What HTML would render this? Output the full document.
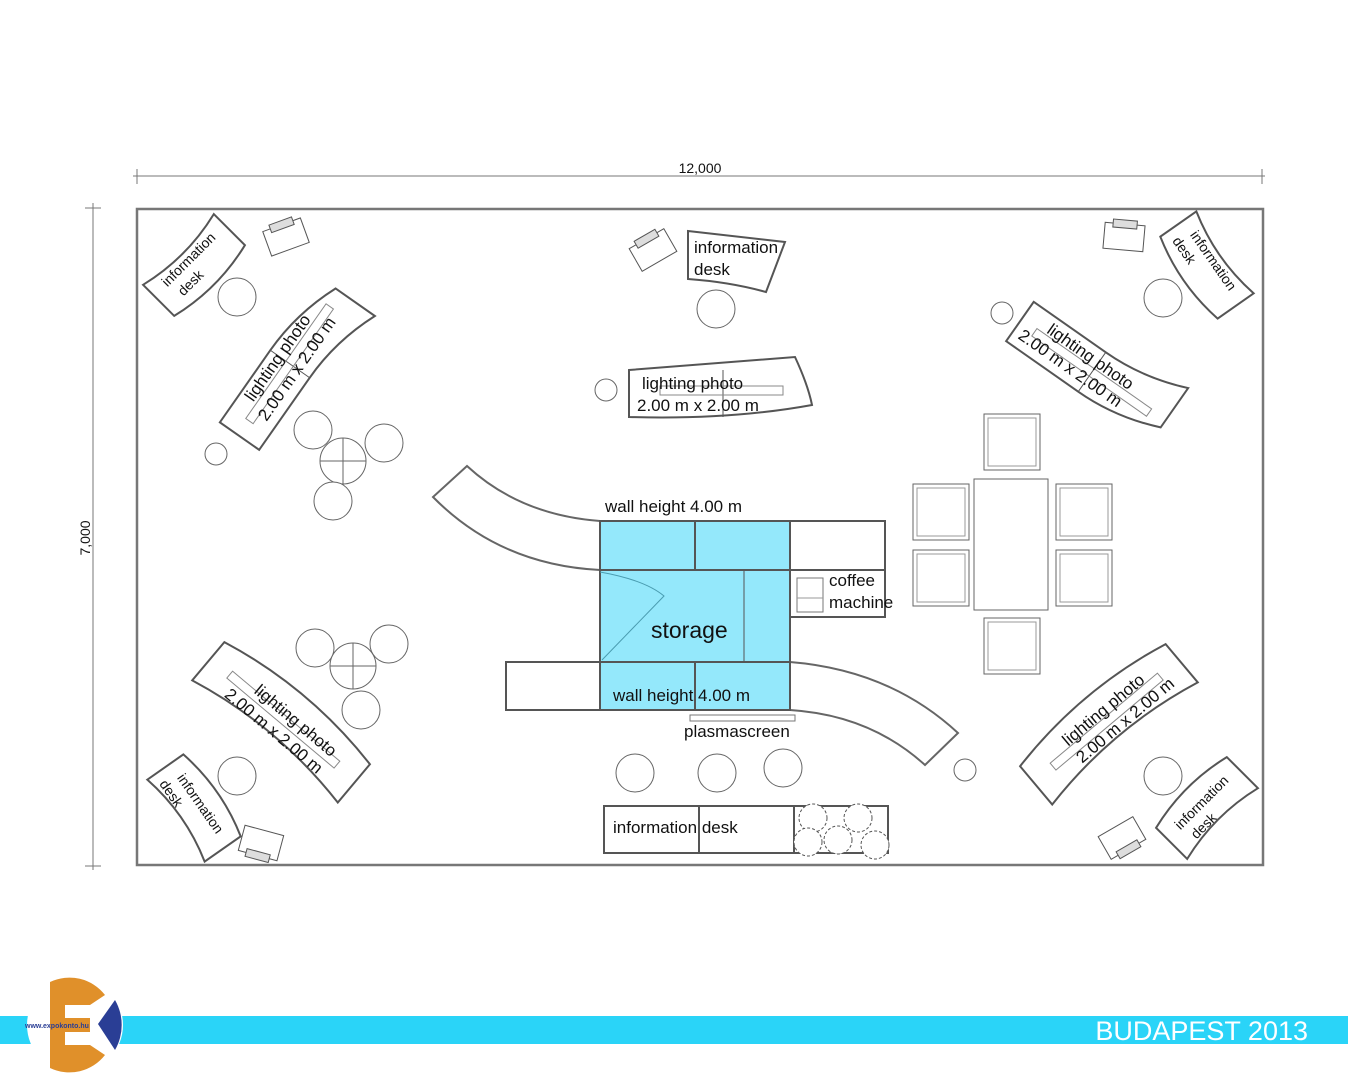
<!DOCTYPE html><html><head><style>body{margin:0;background:#fff}svg{display:block}text{font-family:"Liberation Sans",sans-serif;fill:#111}</style></head><body>
<svg width="1348" height="1080" viewBox="0 0 1348 1080" xmlns="http://www.w3.org/2000/svg">
<defs>
<g id="ban"><path d="M-88,-24 L0,-24 Q45,-24 88,-42 L88,6 Q45,24 0,24 L-88,24 Z" fill="#fff" stroke="#555" stroke-width="2"/><line x1="0" y1="-24" x2="0" y2="24" stroke="#555"/><rect x="-70" y="-4" width="140" height="9" fill="none" stroke="#888"/></g>
<g id="ban2"><path d="M-95,-28 Q0,-8 95,-28 L95,22 Q0,42 -95,22 Z" fill="#fff" stroke="#555" stroke-width="2"/><rect x="-70" y="-4" width="140" height="9" fill="none" stroke="#888"/></g>
<g id="desk"><path d="M-50,-22 Q0,-10 50,-22 L50,22 Q0,34 -50,22 Z" fill="#fff" stroke="#555" stroke-width="2"/></g>
<g id="lap"><rect x="-20" y="-13" width="40" height="26" fill="#fff" stroke="#555"/><rect x="-12" y="-17" width="24" height="8" fill="#ddd" stroke="#555"/></g>
<g id="chair"><rect x="0" y="0" width="56" height="56" fill="#fff" stroke="#666"/><rect x="4" y="4" width="48" height="48" fill="none" stroke="#999"/></g>
</defs>
<g stroke="#777" fill="none"><line x1="133" y1="176" x2="1265" y2="176"/><line x1="137" y1="169" x2="137" y2="184"/><line x1="1262" y1="169" x2="1262" y2="184"/><line x1="93" y1="203" x2="93" y2="870"/><line x1="85" y1="208" x2="101" y2="208"/><line x1="85" y1="866" x2="101" y2="866"/></g>
<text x="700" y="173" font-size="14" text-anchor="middle">12,000</text>
<text transform="translate(90,538) rotate(-90)" font-size="14" text-anchor="middle">7,000</text>
<rect x="137" y="209" width="1126" height="656" fill="none" stroke="#777" stroke-width="2.5"/>
<path d="M467,466 Q520,515 600,521 L600,570 Q500,565 433,497 Z" fill="#fff" stroke="#666" stroke-width="2"/>
<path d="M790,662 Q890,670 958,733 L925,765 Q870,715 790,710 Z" fill="#fff" stroke="#666" stroke-width="2"/>
<g stroke="#555" stroke-width="2">
<rect x="600" y="521" width="190" height="189" fill="#94e8fb"/>
<line x1="600" y1="570" x2="790" y2="570"/><line x1="600" y1="662" x2="790" y2="662"/>
<line x1="695" y1="521" x2="695" y2="570"/><line x1="695" y1="662" x2="695" y2="710"/>
<rect x="790" y="521" width="95" height="49" fill="#fff"/><rect x="790" y="570" width="95" height="47" fill="#fff"/>
<rect x="506" y="662" width="94" height="48" fill="#fff"/>
</g>
<line x1="744" y1="570" x2="744" y2="662" stroke="#555"/>
<path d="M600,572 Q645,580 664,596 L602,660" fill="none" stroke="#4a9cb0"/>
<rect x="797" y="578" width="26" height="34" fill="#fff" stroke="#777"/><line x1="797" y1="598" x2="823" y2="598" stroke="#999"/>
<rect x="690" y="715" width="105" height="6" fill="#fff" stroke="#777"/>
<text x="605" y="512" font-size="17">wall height 4.00 m</text>
<text x="613" y="701" font-size="17">wall height 4.00 m</text>
<text x="651" y="638" font-size="23">storage</text>
<text x="829" y="586" font-size="17">coffee</text><text x="829" y="608" font-size="17">machine</text>
<text x="684" y="737" font-size="17">plasmascreen</text>
<rect x="604" y="806" width="284" height="47" fill="#fff" stroke="#555" stroke-width="2"/>
<line x1="699" y1="806" x2="699" y2="853" stroke="#555" stroke-width="2"/><line x1="794" y1="806" x2="794" y2="853" stroke="#555" stroke-width="2"/>
<text x="613" y="833" font-size="17">information desk</text>
<g fill="#fff" stroke="#555" stroke-dasharray="3,2"><circle cx="813" cy="818" r="14"/><circle cx="858" cy="818" r="14"/><circle cx="808" cy="842" r="14"/><circle cx="838" cy="840" r="14"/><circle cx="875" cy="845" r="14"/></g>
<rect x="974" y="479" width="74" height="131" fill="#fff" stroke="#666"/>
<use href="#chair" x="913" y="484"/><use href="#chair" x="913" y="550"/><use href="#chair" x="1056" y="484"/><use href="#chair" x="1056" y="550"/><use href="#chair" x="984" y="414"/><use href="#chair" x="984" y="618"/>
<g fill="#fff" stroke="#666">
<circle cx="237" cy="297" r="19"/><circle cx="716" cy="309" r="19"/><circle cx="1163" cy="298" r="19"/><circle cx="1002" cy="313" r="11"/><circle cx="606" cy="390" r="11"/><circle cx="216" cy="454" r="11"/><circle cx="313" cy="430" r="19"/><circle cx="384" cy="443" r="19"/><circle cx="343" cy="461" r="23"/><circle cx="333" cy="501" r="19"/><circle cx="315" cy="648" r="19"/><circle cx="389" cy="644" r="19"/><circle cx="353" cy="666" r="23"/><circle cx="361" cy="710" r="19"/><circle cx="237" cy="776" r="19"/><circle cx="635" cy="773" r="19"/><circle cx="717" cy="773" r="19"/><circle cx="783" cy="768" r="19"/><circle cx="965" cy="770" r="11"/><circle cx="1163" cy="776" r="19"/>
</g>
<g stroke="#666"><line x1="343" y1="438" x2="343" y2="484"/><line x1="320" y1="461" x2="366" y2="461"/><line x1="353" y1="643" x2="353" y2="689"/><line x1="330" y1="666" x2="376" y2="666"/></g>
<path d="M629,370 L795,357 Q808,385 812,405 Q730,420 629,417 Z" fill="#fff" stroke="#555" stroke-width="2"/>
<line x1="723" y1="370" x2="723" y2="417" stroke="#555"/><rect x="660" y="386" width="123" height="9" fill="none" stroke="#888"/>
<text x="642" y="389" font-size="17">lighting photo</text><text x="637" y="411" font-size="17">2.00 m x 2.00 m</text>
<path d="M688,231 L785,242 L766,292 Q730,282 688,279 Z" fill="#fff" stroke="#555" stroke-width="2"/>
<text x="694" y="253" font-size="17">information</text><text x="694" y="275" font-size="17">desk</text>
<g transform="translate(290,364) rotate(-55)"><use href="#ban" transform="scale(1,-1)"/><text x="-2" y="-8" font-size="17" text-anchor="middle">lighting photo</text><text x="0" y="14" font-size="17" text-anchor="middle">2.00 m x 2.00 m</text></g>
<g transform="translate(1092,372) rotate(35)"><use href="#ban"/><text x="-10" y="-6" font-size="17" text-anchor="middle">lighting photo</text><text x="-20" y="15" font-size="17" text-anchor="middle">2.00 m x 2.00 m</text></g>
<g transform="translate(283,720) rotate(40)"><use href="#ban2" transform="scale(1,-1)"/><text x="10" y="-2" font-size="17" text-anchor="middle">lighting photo</text><text x="0" y="20" font-size="17" text-anchor="middle">2.00 m x 2.00 m</text></g>
<g transform="translate(1107,722) rotate(-40)"><use href="#ban2" transform="scale(1,-1)"/><text x="5" y="-6" font-size="17" text-anchor="middle">lighting photo</text><text x="15" y="16" font-size="17" text-anchor="middle">2.00 m x 2.00 m</text></g>
<g transform="translate(194,265) rotate(-45)"><use href="#desk"/><text x="0" y="-3" font-size="14" text-anchor="middle">information</text><text x="-15" y="15" font-size="14" text-anchor="middle">desk</text></g>
<g transform="translate(1207,265) rotate(55)"><use href="#desk"/><text x="0" y="-3" font-size="14" text-anchor="middle">information</text><text x="-25" y="15" font-size="14" text-anchor="middle">desk</text></g>
<g transform="translate(194,808) rotate(55)"><use href="#desk" transform="scale(1,-1)"/><text x="0" y="-3" font-size="14" text-anchor="middle">information</text><text x="-25" y="15" font-size="14" text-anchor="middle">desk</text></g>
<g transform="translate(1207,808) rotate(-45)"><use href="#desk" transform="scale(1,-1)"/><text x="0" y="-3" font-size="14" text-anchor="middle">information</text><text x="-15" y="15" font-size="14" text-anchor="middle">desk</text></g>
<g transform="translate(286,237) rotate(-20)"><use href="#lap"/></g>
<g transform="translate(653,250) rotate(-30)"><use href="#lap"/></g>
<g transform="translate(1124,237) rotate(5)"><use href="#lap"/></g>
<g transform="translate(1122,838) rotate(-30) scale(1,-1)"><use href="#lap"/></g>
<g transform="translate(261,843) rotate(15) scale(1,-1)"><use href="#lap"/></g>
<rect x="0" y="1016" width="1348" height="28" fill="#2ad4f8"/>
<text x="1308" y="1040" font-size="27" text-anchor="end" style="fill:#fff">BUDAPEST 2013</text>
<circle cx="75" cy="1025" r="48" fill="#fff"/>
<path d="M50,982 A45,45 0 0 1 105,995 L90,1005 L65,1005 L65,1018 L90,1018 L90,1032 L65,1032 L65,1045 L90,1045 L105,1055 A45,45 0 0 1 50,1068 Z" fill="#e0902a"/>
<path d="M98,1024 L115,1000 A50,50 0 0 1 115,1050 Z" fill="#2a3e95"/>
<text x="25" y="1028" font-size="7" font-weight="bold" style="fill:#2a3e95">www.expokonto.hu</text>
</svg></body></html>
